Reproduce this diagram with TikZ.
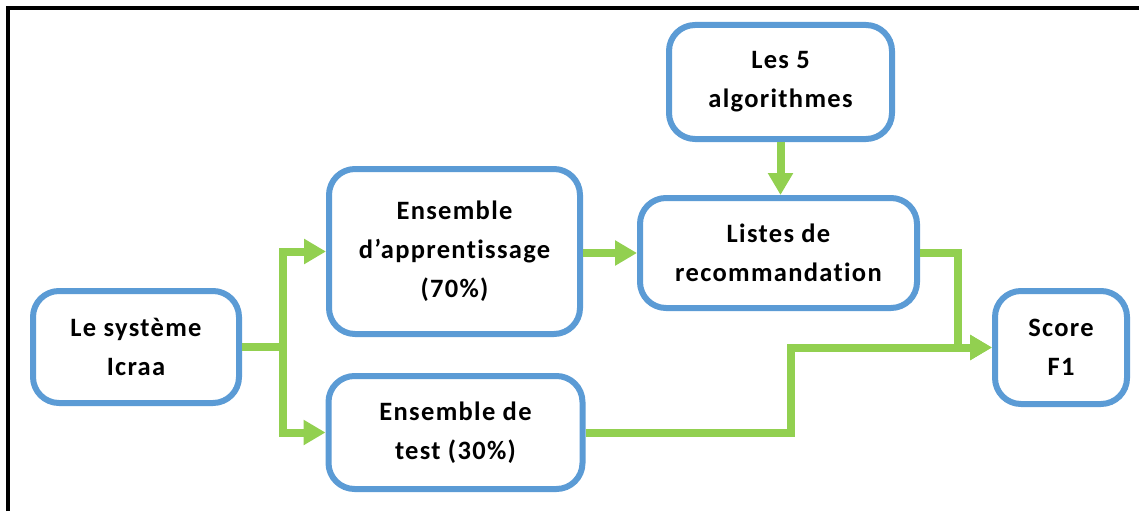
\documentclass[tikz,border=0pt]{standalone}
\usepackage{fontspec}
\setmainfont{Carlito}[LetterSpace=5, Ligatures={NoCommon}]
\usetikzlibrary{arrows.meta}
\definecolor{boxblue}{HTML}{5B9BD5}
\definecolor{arrgreen}{HTML}{92D050}
\tikzset{
  stepbox/.style={draw=boxblue, line width=6pt, rounded corners=26pt, fill=white,
    align=center, inner sep=0pt, font=\fontsize{26.5}{39}\selectfont\bfseries, text=black},
  flow/.style={draw=arrgreen, line width=8pt, line join=miter},
  flowarr/.style={flow, -{Triangle[length=22pt,width=24pt]}},
}
\begin{document}
\begin{tikzpicture}[x=1pt,y=-1pt]
\useasboundingbox (0,0) rectangle (1139,511);
\draw[line width=4pt] (8,511) -- (8,8) -- (1139,8);

\node[stepbox, minimum width=206pt, minimum height=112pt] (sys) at (136,347) {Le système\\Icraa};
\node[stepbox, minimum width=251pt, minimum height=165pt] (app) at (454.5,251.5) {Ensemble\\d’apprentissage\\(70\%)};
\node[stepbox, minimum width=254pt, minimum height=113pt] (test) at (455.5,432.5) {Ensemble de\\test (30\%)};
\node[stepbox, minimum width=223pt, minimum height=114pt] (algo) at (780.5,82) {Les 5\\algorithmes};
\node[stepbox, minimum width=277pt, minimum height=110pt] (lis) at (778.5,253) {Listes de\\recommandation};
\node[stepbox, minimum width=132pt, minimum height=113pt] (score) at (1061,347.5) {Score\\F1};

\coordinate (split) at (283,347);
\draw[flow] (sys.east) -- ([xshift=4pt]split);
\draw[flowarr] (split) |- (app.west);
\draw[flowarr] (split) |- (test.west);
\draw[flowarr] (app.east |- lis.west) -- (lis.west);
\draw[flowarr] (algo.south) -- (algo.south |- lis.north);
\draw[flowarr] (lis.east) -- ++(38,0) |- (score.west);
\draw[flowarr] (test.east) -- ++(205,0) |- (score.west);
\end{tikzpicture}
\end{document}
